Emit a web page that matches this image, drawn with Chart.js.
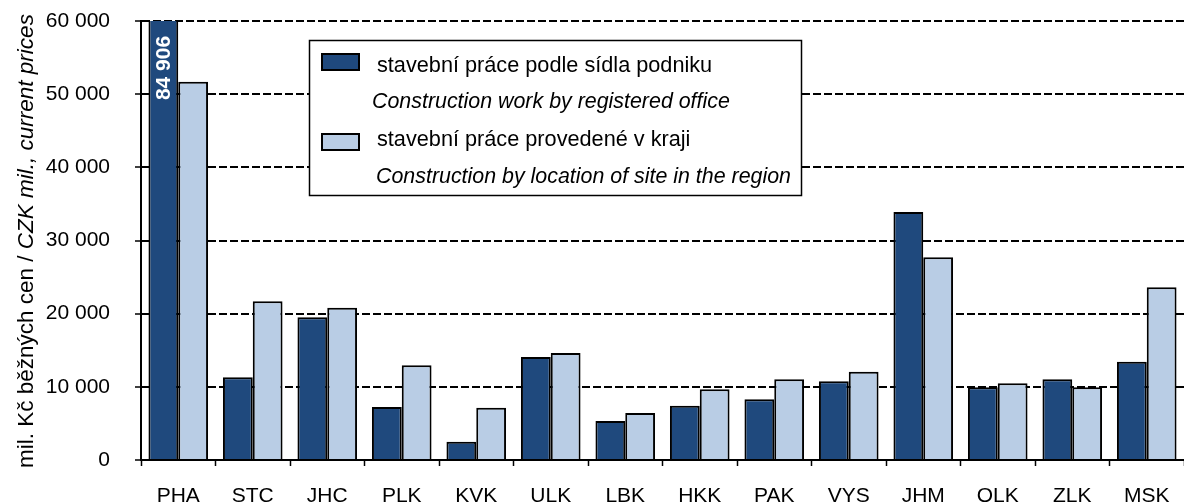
<!DOCTYPE html>
<html lang="cs">
<head>
    <meta charset="UTF-8">
    <title>Stavební práce v krajích</title>
    <script src="https://cdn.jsdelivr.net/npm/chart.js"></script>
    <style>
        body { margin: 0; background: #fff; }
    </style>
</head>
<body>
    <canvas id="constructionChart" width="1184" height="504"></canvas>
    <script>
        // kraje
        const regions = ['PHA', 'STC', 'JHC', 'PLK', 'KVK', 'ULK', 'LBK', 'HKK', 'PAK', 'VYS', 'JHM', 'OLK', 'ZLK', 'MSK'];
        // mil. Kč, běžné ceny
        const byRegisteredOffice = [84906, 11300, 19500, 7240, 2500, 14080, 5330, 7420, 8290, 10750, 33900, 9930, 11030, 13440];
        const byLocationOfSite = [51700, 21690, 20820, 12940, 7150, 14620, 6420, 9660, 11030, 12070, 27700, 10480, 9930, 23600];

        const seriesNamesCz = ['stavební práce podle sídla podniku', 'stavební práce provedené v kraji'];
        const seriesNamesEn = ['Construction work by registered office', 'Construction by location of site in the region'];
        const yTitleCz = 'mil. Kč běžných cen / ';
        const yTitleEn = 'CZK mil., current prices';
        const yTicks = [0, 10000, 20000, 30000, 40000, 50000, 60000];

        const FONT = "'Liberation Sans', Arial, sans-serif";
        const DARK = '#1F497D';
        const LIGHT = '#B9CDE5';

        function fmt(v) {
            return String(v).replace(/\B(?=(\d{3})+(?!\d))/g, ' ');
        }

        // popisek osy y (dvě části, druhá kurzívou)
        const yTitlePlugin = {
            id: 'yTitle',
            afterDraw(chart) {
                const ctx = chart.ctx;
                ctx.save();
                ctx.translate(33, 468);
                ctx.rotate(-Math.PI / 2);
                ctx.fillStyle = '#000';
                ctx.textBaseline = 'alphabetic';
                ctx.textAlign = 'left';
                ctx.font = '22.5px ' + FONT;
                ctx.fillText(yTitleCz, 0, 0);
                const w = ctx.measureText(yTitleCz).width;
                ctx.font = 'italic 22.5px ' + FONT;
                ctx.fillText(yTitleEn, w, 0);
                ctx.restore();
            }
        };

        // hodnota useknutého sloupce PHA
        const valueLabelPlugin = {
            id: 'valueLabel',
            afterDatasetsDraw(chart) {
                const ctx = chart.ctx;
                const bar = chart.getDatasetMeta(0).data[0];
                ctx.save();
                ctx.translate(bar.x + 1, chart.chartArea.top + 47);
                ctx.rotate(-Math.PI / 2);
                ctx.fillStyle = '#fff';
                ctx.font = 'bold 21px ' + FONT;
                ctx.textAlign = 'center';
                ctx.textBaseline = 'middle';
                ctx.fillText(fmt(byRegisteredOffice[0]), 0, 0);
                ctx.restore();
            }
        };

        // legenda v rámečku
        const boxLegendPlugin = {
            id: 'boxLegend',
            afterDraw(chart) {
                const ctx = chart.ctx;
                const ds = chart.data.datasets;
                ctx.save();
                ctx.fillStyle = '#fff';
                ctx.fillRect(309, 40, 492, 155);
                ctx.strokeStyle = '#000';
                ctx.lineWidth = 1.5;
                ctx.strokeRect(309.5, 40.5, 492, 155);

                const rows = [
                    { sy: 54, by1: 72, by2: 108, x2: 372 },
                    { sy: 134, by1: 146, by2: 183, x2: 376 }
                ];
                rows.forEach((r, i) => {
                    ctx.fillStyle = ds[i].backgroundColor;
                    ctx.fillRect(322, r.sy, 37, 16);
                    ctx.lineWidth = 2;
                    ctx.strokeRect(322, r.sy, 37, 16);
                    ctx.fillStyle = '#000';
                    ctx.textAlign = 'left';
                    ctx.textBaseline = 'alphabetic';
                    ctx.font = '21.7px ' + FONT;
                    ctx.fillText(seriesNamesCz[i], 377, r.by1);
                    ctx.font = 'italic 21.4px ' + FONT;
                    ctx.fillText(seriesNamesEn[i], r.x2, r.by2);
                });
                ctx.restore();
            }
        };

        const ctx = document.getElementById('constructionChart').getContext('2d');
        new Chart(ctx, {
            type: 'bar',
            data: {
                labels: regions,
                datasets: [
                    {
                        label: seriesNamesCz[0],
                        data: byRegisteredOffice,
                        backgroundColor: DARK,
                        borderColor: '#000',
                        borderWidth: 2,
                        categoryPercentage: 0.8,
                        barPercentage: 1.0
                    },
                    {
                        label: seriesNamesCz[1],
                        data: byLocationOfSite,
                        backgroundColor: LIGHT,
                        borderColor: '#000',
                        borderWidth: 2,
                        categoryPercentage: 0.8,
                        barPercentage: 1.0
                    }
                ]
            },
            options: {
                responsive: false,
                animation: false,
                layout: { autoPadding: false, padding: { top: 21, left: 0, right: 0, bottom: 0 } },
                plugins: {
                    legend: { display: false },
                    tooltip: { enabled: false }
                },
                scales: {
                    x: {
                        offset: true,
                        afterFit(scale) {
                            scale.height = 44;
                            scale.paddingLeft = 0;
                            scale.paddingRight = 0;
                        },
                        grid: {
                            offset: true,
                            drawOnChartArea: false,
                            drawTicks: true,
                            tickLength: 6,
                            tickColor: '#000',
                            tickWidth: 1.5
                        },
                        border: { color: '#000', width: 2 },
                        ticks: {
                            color: '#000',
                            padding: 18,
                            font: { family: FONT, size: 21 }
                        }
                    },
                    y: {
                        min: 0,
                        max: 60000,
                        afterFit(scale) {
                            scale.width = 141;
                            scale.paddingTop = 0;
                            scale.paddingBottom = 0;
                        },
                        afterBuildTicks(scale) {
                            scale.ticks = yTicks.map(v => ({ value: v }));
                        },
                        grid: {
                            color: ctx => ctx.tick && ctx.tick.value === 0 ? 'rgba(0,0,0,0)' : '#000',
                            lineWidth: 2,
                            drawTicks: true,
                            tickLength: 6,
                            tickColor: '#000',
                            tickWidth: 1.5,
                            tickBorderDash: []
                        },
                        border: { color: '#000', width: 2, dash: [8, 3] },
                        ticks: {
                            color: '#000',
                            padding: 25,
                            font: { family: FONT, size: 21 },
                            callback: v => fmt(v)
                        }
                    }
                }
            },
            plugins: [valueLabelPlugin, boxLegendPlugin, yTitlePlugin]
        });
    </script>
</body>
</html>
